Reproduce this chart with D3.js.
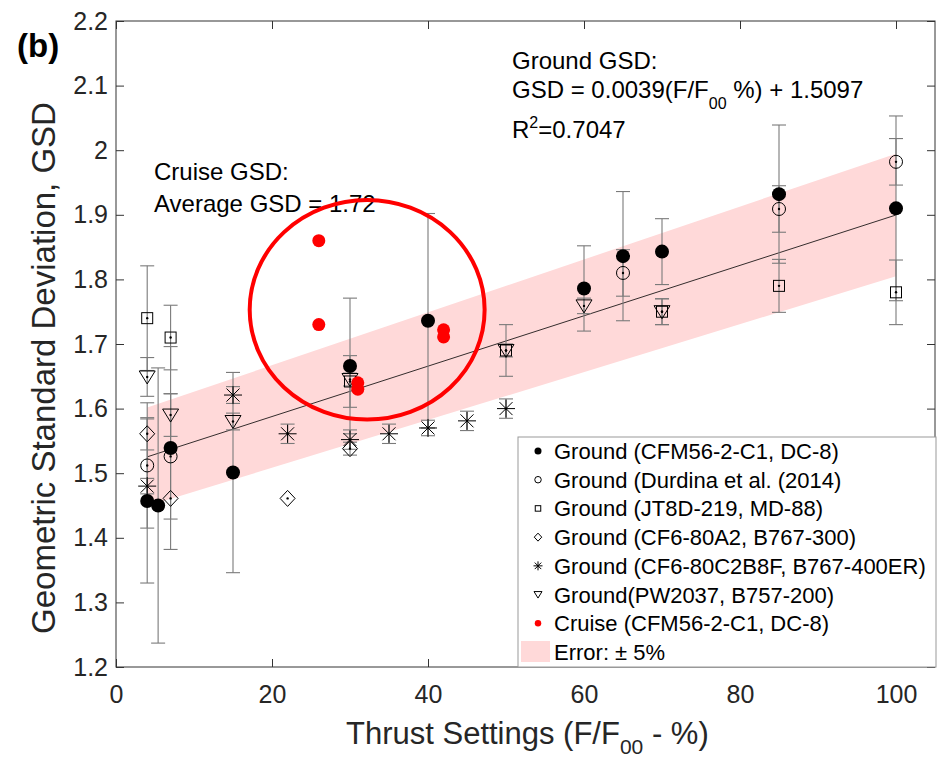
<!DOCTYPE html>
<html>
<head>
<meta charset="utf-8">
<script src="https://cdn.jsdelivr.net/npm/d3@7"></script>
<style>
  body { margin: 0; background: #fff; }
  svg { font-family: "Liberation Sans", Arial, sans-serif; }
</style>
</head>
<body>
<div id="chart"></div>
<script>
var svgWidth = 940;
var svgHeight = 757;

// data
var xTicks = [0, 20, 40, 60, 80, 100];
var yTicks = [1.2, 1.3, 1.4, 1.5, 1.6, 1.7, 1.8, 1.9, 2.0, 2.1, 2.2];

var cfmX = [4, 5.4, 7, 15, 30, 40, 60, 65, 70, 85, 100];
var cfmY = [1.457, 1.450, 1.539, 1.501, 1.666, 1.736, 1.786, 1.836, 1.843, 1.932, 1.910];
var cfmErr = [0.127, 0.213, 0.157, 0.155, 0.105, 0.166, 0.066, 0.100, 0.051, 0.107, 0.143];

var durX = [4, 7, 65, 85, 100];
var durY = [1.512, 1.526, 1.810, 1.909, 1.982];
var durErr = [0.097, 0.097, 0.036, 0.036, 0.036];

var jtX = [4, 7, 30, 50, 70, 85, 100];
var jtY = [1.740, 1.710, 1.642, 1.690, 1.750, 1.790, 1.780];
var jtErr = [0.081, 0.050, 0.040, 0.040, 0.020, 0.041, 0.050];

var a2X = [4, 7, 22, 30];
var a2Y = [1.561, 1.461, 1.461, 1.538];
var a2Err = [0.025, 0, 0, 0.010];

var c2X = [4, 15, 22, 30, 35, 40, 45, 50];
var c2Y = [1.480, 1.621, 1.561, 1.552, 1.561, 1.570, 1.581, 1.600];
var c2Err = [0.012, 0.013, 0.015, 0.015, 0.015, 0.012, 0.015, 0.015];

var pwX = [4, 7, 15, 30, 50, 60, 70];
var pwY = [1.649, 1.590, 1.580, 1.645, 1.690, 1.759, 1.750];
var pwErr = [0.030, 0.033, 0.013, 0.010, 0.010, 0.012, 0.020];

var cruiseX = [26, 26, 31, 31, 42, 42];
var cruiseY = [1.860, 1.730, 1.640, 1.630, 1.722, 1.711];

var fitSlope = 0.0039, fitIntercept = 1.5097, fitRange = [4, 100], errPct = 0.05;
var cruiseEllipse = { cx: 32.2, cy: 1.753, rx: 15.06, ry: 0.170 };

var legendLabels = [
  "Ground (CFM56-2-C1, DC-8)",
  "Ground (Durdina et al. (2014)",
  "Ground (JT8D-219, MD-88)",
  "Ground (CF6-80A2, B767-300)",
  "Ground (CF6-80C2B8F, B767-400ER)",
  "Ground(PW2037, B757-200)",
  "Cruise (CFM56-2-C1, DC-8)",
  "Error: \u00b1 5%"
];

var svg = d3.select("#chart")
  .append("svg")
  .attr("width", svgWidth)
  .attr("height", svgHeight);

var x = d3.scaleLinear().domain([0, 105]).range([116, 935]);
var y = d3.scaleLinear().domain([1.2, 2.2]).range([667, 21]);

var axisColor = "#333";

function zip(xs, ys, es) {
  return xs.map((v, i) => ({ x: v, y: ys[i], e: es ? es[i] : 0 }));
}

var series = [
  { key: "cfm", data: zip(cfmX, cfmY, cfmErr) },
  { key: "dur", data: zip(durX, durY, durErr) },
  { key: "jt", data: zip(jtX, jtY, jtErr) },
  { key: "a2", data: zip(a2X, a2Y, a2Err) },
  { key: "c2", data: zip(c2X, c2Y, c2Err) },
  { key: "pw", data: zip(pwX, pwY, pwErr) },
  { key: "cruise", data: zip(cruiseX, cruiseY, null) }
];

// error band and fit line
var fitPts = fitRange.map(v => ({ x: v, y: fitSlope * v + fitIntercept }));
svg.append("path")
  .datum(fitPts)
  .attr("fill", "#ffd9d9")
  .attr("d", d3.area()
    .x(d => x(d.x))
    .y0(d => y(d.y * (1 - errPct)))
    .y1(d => y(d.y * (1 + errPct))));

svg.append("path")
  .datum(fitPts)
  .attr("fill", "none")
  .attr("stroke", "#000")
  .attr("stroke-width", 0.8)
  .attr("d", d3.line().x(d => x(d.x)).y(d => y(d.y)));

// axes (box with inward ticks)
svg.append("rect")
  .attr("x", x(0)).attr("y", y(2.2))
  .attr("width", x(105) - x(0)).attr("height", y(1.2) - y(2.2))
  .attr("fill", "none").attr("stroke", axisColor).attr("stroke-width", 1);

var bottomAxis = d3.axisBottom(x).tickValues(xTicks).tickSize(-8).tickPadding(18).tickFormat(d3.format("d"));
var topAxis = d3.axisTop(x).tickValues(xTicks).tickSize(-8).tickFormat("");
var leftAxis = d3.axisLeft(y).tickValues(yTicks).tickSize(-8).tickPadding(8).tickFormat(d => d3.format("")(+d.toFixed(1)));
var rightAxis = d3.axisRight(y).tickValues(yTicks).tickSize(-8).tickFormat("");

function styleAxis(g) {
  g.select(".domain").remove();
  g.selectAll("line").attr("stroke", axisColor);
  g.selectAll("text").attr("fill", "#262626").style("font-size", "25px");
}

svg.append("g").attr("transform", `translate(0, ${y(1.2)})`).call(bottomAxis).call(styleAxis);
svg.append("g").attr("transform", `translate(0, ${y(2.2)})`).call(topAxis).call(styleAxis);
svg.append("g").attr("transform", `translate(${x(0)}, 0)`).call(leftAxis).call(styleAxis);
svg.append("g").attr("transform", `translate(${x(105)}, 0)`).call(rightAxis).call(styleAxis);

// error bars
var capW = 7;
var errGroup = svg.append("g").attr("stroke", "#7a7a7a").attr("stroke-width", 1.1);
series.forEach(s => {
  s.data.filter(d => d.e > 0).forEach(d => {
    var cx = x(d.x), top = y(d.y + d.e), bot = y(d.y - d.e);
    errGroup.append("line").attr("x1", cx).attr("x2", cx).attr("y1", top).attr("y2", bot);
    errGroup.append("line").attr("x1", cx - capW).attr("x2", cx + capW).attr("y1", top).attr("y2", top);
    errGroup.append("line").attr("x1", cx - capW).attr("x2", cx + capW).attr("y1", bot).attr("y2", bot);
  });
});

// marker drawing
function drawMarker(g, key, cx, cy, k) {
  var m = g.append("g").attr("transform", `translate(${cx}, ${cy}) scale(${k})`);
  if (key === "cfm") {
    m.append("circle").attr("r", 7).attr("fill", "#000");
  } else if (key === "cruise") {
    m.append("circle").attr("r", 6.5).attr("fill", "#ff0000");
  } else if (key === "dur") {
    m.append("circle").attr("r", 6.5).attr("fill", "none").attr("stroke", "#000").attr("stroke-width", 1 / k);
  } else if (key === "jt") {
    m.append("rect").attr("x", -5.5).attr("y", -5.5).attr("width", 11).attr("height", 11)
      .attr("fill", "none").attr("stroke", "#000").attr("stroke-width", 1 / k);
  } else if (key === "a2") {
    m.append("path").attr("d", "M0,-8L7.5,0L0,8L-7.5,0Z")
      .attr("fill", "none").attr("stroke", "#000").attr("stroke-width", 1 / k);
  } else if (key === "pw") {
    m.append("path").attr("d", "M-8,-6L8,-6L0,7Z")
      .attr("fill", "none").attr("stroke", "#000").attr("stroke-width", 1 / k);
  } else if (key === "c2") {
    m.append("path").attr("d", "M-9,0L9,0M0,-9L0,9M-6.5,-6.5L6.5,6.5M-6.5,6.5L6.5,-6.5")
      .attr("fill", "none").attr("stroke", "#000").attr("stroke-width", 1 / k);
  }
  if (k === 1 && key !== "cfm" && key !== "cruise") {
    m.append("circle").attr("r", 1.2).attr("fill", "#000");
  }
}

var markGroup = svg.append("g");
series.forEach(s => {
  s.data.forEach(d => drawMarker(markGroup, s.key, x(d.x), y(d.y), 1));
});

// annotations
var ann = svg.append("g").style("font-size", "24px").attr("fill", "#000");
ann.append("text").attr("x", 154).attr("y", 180).text("Cruise GSD:");
ann.append("text").attr("x", 154).attr("y", 212).text("Average GSD = 1.72");
ann.append("text").attr("x", 512).attr("y", 69).text("Ground GSD:");
var eq = ann.append("text").attr("x", 512).attr("y", 98);
eq.append("tspan").text("GSD = 0.0039(F/F");
eq.append("tspan").attr("dy", 11).style("font-size", "16px").text("00");
eq.append("tspan").attr("dy", -11).text(" %) + 1.5097");
var r2 = ann.append("text").attr("x", 512).attr("y", 138);
r2.append("tspan").text("R");
r2.append("tspan").attr("dy", -10).style("font-size", "16px").text("2");
r2.append("tspan").attr("dy", 10).text("=0.7047");

// cruise ellipse
svg.append("ellipse")
  .attr("cx", x(cruiseEllipse.cx))
  .attr("cy", y(cruiseEllipse.cy))
  .attr("rx", x(cruiseEllipse.cx + cruiseEllipse.rx) - x(cruiseEllipse.cx))
  .attr("ry", y(cruiseEllipse.cy) - y(cruiseEllipse.cy + cruiseEllipse.ry))
  .attr("fill", "none")
  .attr("stroke", "#ff0000")
  .attr("stroke-width", 4);

// axis labels
svg.append("text")
  .attr("transform", "rotate(-90)")
  .attr("x", -368)
  .attr("y", 55)
  .attr("text-anchor", "middle")
  .attr("fill", "#262626")
  .style("font-size", "33px")
  .text("Geometric Standard Deviation, GSD");

var xl = svg.append("text")
  .attr("x", 346)
  .attr("y", 744)
  .attr("fill", "#262626")
  .style("font-size", "31px");
xl.append("tspan").text("Thrust Settings (F/F");
xl.append("tspan").attr("dy", 10).style("font-size", "21px").text("00");
xl.append("tspan").attr("dy", -10).text(" - %)");

svg.append("text")
  .attr("x", 17)
  .attr("y", 57)
  .style("font-size", "33px")
  .style("font-weight", "bold")
  .text("(b)");

// legend
var legend = svg.append("g");
legend.append("rect")
  .attr("x", 518).attr("y", 437)
  .attr("width", 418).attr("height", 230)
  .attr("fill", "#fff").attr("stroke", "#999").attr("stroke-width", 1);

var legendKeys = ["cfm", "dur", "jt", "a2", "c2", "pw", "cruise", "band"];
var rowY = d3.scaleLinear().domain([0, 7]).range([451, 652]);
legendKeys.forEach((key, i) => {
  var cy = rowY(i);
  if (key === "band") {
    legend.append("rect").attr("x", 521).attr("y", cy - 11).attr("width", 29).attr("height", 21).attr("fill", "#ffd9d9");
  } else {
    drawMarker(legend, key, 538, cy, 0.5);
  }
  legend.append("text")
    .attr("x", 554)
    .attr("y", cy + 8)
    .style("font-size", "22px")
    .attr("fill", "#000")
    .text(legendLabels[i]);
});
</script>
</body>
</html>
